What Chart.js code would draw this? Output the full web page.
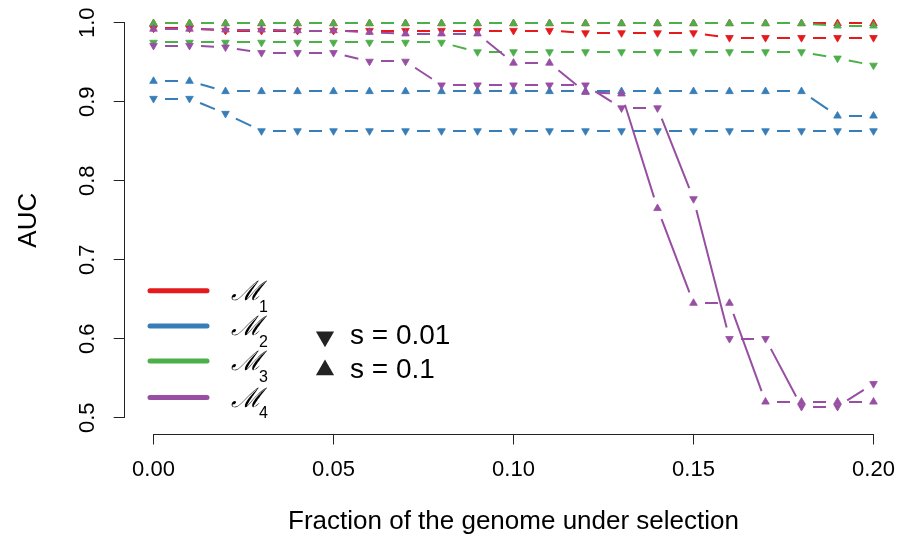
<!DOCTYPE html>
<html>
<head>
<meta charset="utf-8">
<script src="https://cdn.jsdelivr.net/npm/chart.js@4.4.1/dist/chart.umd.min.js"></script>
<style>
html,body{margin:0;padding:0;background:#fff;}
canvas{display:block;}
</style>
</head>
<body>
<canvas id="c" width="911" height="539"></canvas>
<script>
// ---- data ----
const fractions = [0.00,0.01,0.02,0.03,0.04,0.05,0.06,0.07,0.08,0.09,0.10,0.11,0.12,0.13,0.14,0.15,0.16,0.17,0.18,0.19,0.20];
const xTickValues = [0.00,0.05,0.10,0.15,0.20];
const yTickValues = [0.5,0.6,0.7,0.8,0.9,1.0];

const m1_s001 = [0.993,0.993,0.990,0.990,0.990,0.990,0.990,0.990,0.990,0.990,0.990,0.990,0.987,0.987,0.987,0.987,0.981,0.981,0.981,0.981,0.981];
const m1_s01  = [0.999,0.999,0.999,0.999,0.999,0.999,0.999,0.999,0.999,0.999,0.999,0.999,0.999,0.999,0.999,0.999,0.999,0.999,0.999,0.999,0.999];
const m2_s001 = [0.904,0.904,0.885,0.863,0.863,0.863,0.863,0.863,0.863,0.863,0.863,0.863,0.863,0.863,0.863,0.863,0.863,0.863,0.863,0.863,0.863];
const m2_s01  = [0.926,0.926,0.913,0.913,0.913,0.913,0.913,0.913,0.913,0.913,0.913,0.913,0.913,0.913,0.913,0.913,0.913,0.913,0.913,0.882,0.882];
const m3_s001 = [0.975,0.975,0.975,0.975,0.975,0.975,0.975,0.975,0.975,0.963,0.963,0.963,0.963,0.963,0.963,0.963,0.963,0.963,0.963,0.955,0.946];
const m3_s01  = [0.999,0.999,0.999,0.999,0.999,0.999,0.999,0.999,0.999,0.999,0.999,0.999,0.999,0.999,0.999,0.999,0.999,0.999,0.999,0.996,0.996];
const m4_s001 = [0.971,0.971,0.969,0.962,0.962,0.962,0.951,0.951,0.921,0.921,0.921,0.921,0.921,0.892,0.892,0.777,0.600,0.600,0.514,0.514,0.543];
const m4_s01  = [0.992,0.992,0.991,0.991,0.990,0.990,0.988,0.986,0.986,0.986,0.949,0.949,0.912,0.910,0.765,0.645,0.645,0.520,0.520,0.520,0.520];

const modelSubscripts = ['1','2','3','4'];
const selectionLabels = ['s = 0.01','s = 0.1'];

// ---- styles ----
const modelColors = ['#E41A1C','#377EB8','#4DAF4A','#984EA3'];
const FONT = "'Liberation Sans', Arial, Helvetica, sans-serif";

const seriesList = [
  {vals:m1_s001, model:0, up:false},
  {vals:m1_s01,  model:0, up:true},
  {vals:m2_s001, model:1, up:false},
  {vals:m2_s01,  model:1, up:true},
  {vals:m3_s001, model:2, up:false},
  {vals:m3_s01,  model:2, up:true},
  {vals:m4_s001, model:3, up:false},
  {vals:m4_s01,  model:3, up:true}
];

const datasets = seriesList.map((s, i) => ({
  label: 'M' + modelSubscripts[s.model] + (s.up ? ' s=0.1' : ' s=0.01'),
  data: fractions.map((x, j) => ({x: x, y: s.vals[j]})),
  showLine: false,
  borderColor: modelColors[s.model],
  backgroundColor: modelColors[s.model],
  pointStyle: 'triangle',
  pointRotation: s.up ? 0 : 180,
  pointRadius: 4.4,
  pointBorderWidth: 0.8,
  pointBorderColor: modelColors[s.model],
  pointBackgroundColor: modelColors[s.model],
  order: seriesList.length - i
}));

// R type="b": line segments with gaps around points
const gapLines = {
  id: 'gapLines',
  beforeDatasetDraw(chart, args) {
    const meta = args.meta;
    const ds = chart.data.datasets[args.index];
    const pts = meta.data;
    const ctx = chart.ctx;
    const gap = 11.5;
    ctx.save();
    ctx.strokeStyle = ds.borderColor;
    ctx.lineWidth = 2;
    ctx.lineCap = 'butt';
    ctx.beginPath();
    for (let i = 0; i < pts.length - 1; i++) {
      const a = pts[i], b = pts[i + 1];
      const dx = b.x - a.x, dy = b.y - a.y;
      const d = Math.hypot(dx, dy);
      if (d <= 2 * gap) continue;
      const ux = dx / d, uy = dy / d;
      let y0 = a.y + uy * gap, y1 = b.y - uy * gap;
      if (Math.abs(dy) < 0.01) { y0 = y1 = Math.round(a.y); }
      ctx.moveTo(a.x + ux * gap, y0);
      ctx.lineTo(b.x - ux * gap, y1);
    }
    ctx.stroke();
    ctx.restore();
  }
};

// R-style axis lines spanning only the tick range
const axisLines = {
  id: 'axisLines',
  afterDraw(chart) {
    const ctx = chart.ctx;
    const xs = chart.scales.x, ys = chart.scales.y;
    const ca = chart.chartArea;
    ctx.save();
    ctx.strokeStyle = '#222';
    ctx.lineWidth = 1;
    ctx.beginPath();
    const by = Math.round(ca.bottom) + 0.5;
    ctx.moveTo(xs.getPixelForValue(xTickValues[0]), by);
    ctx.lineTo(xs.getPixelForValue(xTickValues[xTickValues.length - 1]), by);
    const lx = Math.round(ca.left) - 0.5;
    ctx.moveTo(lx, ys.getPixelForValue(yTickValues[0]));
    ctx.lineTo(lx, ys.getPixelForValue(yTickValues[yTickValues.length - 1]));
    ctx.stroke();
    ctx.restore();
  }
};

function triPath(ctx, cx, cy, r, up) {
  const hw = r * Math.sqrt(3) / 2;
  ctx.beginPath();
  if (up) {
    ctx.moveTo(cx, cy - r);
    ctx.lineTo(cx + hw, cy + r / 2);
    ctx.lineTo(cx - hw, cy + r / 2);
  } else {
    ctx.moveTo(cx, cy + r);
    ctx.lineTo(cx + hw, cy - r / 2);
    ctx.lineTo(cx - hw, cy - r / 2);
  }
  ctx.closePath();
}

const customLegend = {
  id: 'customLegend',
  afterDraw(chart) {
    const ctx = chart.ctx;
    ctx.save();
    const rowsY = [290.7, 326, 361, 397.5];
    modelColors.forEach((c, i) => {
      ctx.strokeStyle = c;
      ctx.lineWidth = 5;
      ctx.lineCap = 'round';
      ctx.beginPath();
      ctx.moveTo(150, rowsY[i]);
      ctx.lineTo(207, rowsY[i]);
      ctx.stroke();
      ctx.fillStyle = '#000';
      ctx.textAlign = 'left';
      ctx.textBaseline = 'middle';
      ctx.font = "italic 27px 'DejaVu Serif', serif";
      ctx.fillText('\u2133', 231, rowsY[i] + 2);
      const w = ctx.measureText('\u2133').width;
      ctx.font = "16px " + FONT;
      ctx.fillText(modelSubscripts[i], 231 + w - 3, rowsY[i] + 16.5);
    });
    // selection legend
    const sy = [336.7, 370];
    ctx.fillStyle = '#222';
    triPath(ctx, 325, sy[0], 10.5, false); ctx.fill();
    triPath(ctx, 325, sy[1], 10.5, true); ctx.fill();
    ctx.fillStyle = '#000';
    ctx.font = "28px " + FONT;
    ctx.textAlign = 'left';
    ctx.textBaseline = 'middle';
    ctx.fillText(selectionLabels[0], 350, sy[0]);
    ctx.fillText(selectionLabels[1], 350, sy[1]);
    ctx.restore();
  }
};

new Chart(document.getElementById('c'), {
  type: 'line',
  data: { datasets: datasets },
  options: {
    responsive: false,
    devicePixelRatio: 1,
    animation: false,
    events: [],
    layout: { padding: { top: 6.9, right: 8.7, left: 0, bottom: 0 } },
    plugins: { legend: { display: false }, tooltip: { enabled: false } },
    scales: {
      x: {
        type: 'linear',
        min: -0.008,
        max: 0.208,
        afterBuildTicks: (scale) => { scale.ticks = xTickValues.map(v => ({value: v})); },
        afterFit: (scale) => { scale.height = 105.5; scale.paddingLeft = 0; scale.paddingRight = 0; },
        grid: { display: true, drawOnChartArea: false, drawTicks: true, tickLength: 11, color: '#222', lineWidth: 1 },
        border: { display: false },
        ticks: {
          font: { family: FONT, size: 22 },
          color: '#000',
          padding: 12,
          maxRotation: 0,
          autoSkip: false,
          callback: (v) => Number(v).toFixed(2)
        },
        title: {
          display: true,
          text: 'Fraction of the genome under selection',
          font: { family: FONT, size: 26 },
          color: '#000',
          padding: { top: 0, bottom: 2 }
        }
      },
      y: {
        type: 'linear',
        min: 0.48,
        max: 1.02,
        afterBuildTicks: (scale) => { scale.ticks = yTickValues.map(v => ({value: v})); },
        afterFit: (scale) => { scale.width = 124.7; scale.paddingTop = 0; scale.paddingBottom = 0; },
        grid: { display: true, drawOnChartArea: false, drawTicks: true, tickLength: 11, color: '#222', lineWidth: 1 },
        border: { display: false },
        ticks: {
          font: { family: FONT, size: 22 },
          color: '#000',
          padding: 10,
          minRotation: 90,
          maxRotation: 90,
          crossAlign: 'center',
          autoSkip: false,
          callback: (v) => Number(v).toFixed(1)
        },
        title: {
          display: true,
          text: 'AUC',
          font: { family: FONT, size: 26 },
          color: '#000',
          padding: { top: 13, bottom: 0 }
        }
      }
    }
  },
  plugins: [gapLines, axisLines, customLegend]
});
</script>
</body>
</html>
